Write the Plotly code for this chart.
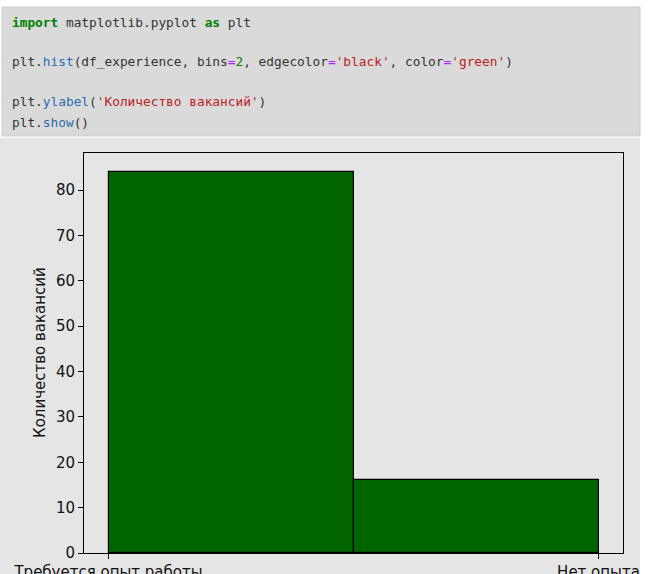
import plotly.graph_objects as go
import numpy as np

# ---- data ----
categories = ["Требуется опыт работы", "Нет опыта"]
counts = [84, 16]
y_ticks = [0, 10, 20, 30, 40, 50, 60, 70, 80]
y_label = "Количество вакансий"

# matplotlib-style categorical histogram: categories -> codes 0..n-1, bins=2
codes = np.arange(len(categories))
edges = np.linspace(codes.min(), codes.max(), len(counts) + 1)
centers = (edges[:-1] + edges[1:]) / 2
widths = np.diff(edges)

W, H = 656, 574
L, R, T, B = 84, 623, 153, 553

def px(x):
    return (x - L) / (R - L)

def py(y):
    return (B - y) / (B - T)

fig = go.Figure()
fig.add_trace(go.Bar(
    x=centers, y=counts, width=widths,
    marker=dict(color="#006400", line=dict(color="black", width=1.2)),
    hoverinfo="skip",
))

KW = "color:#008000;font-weight:bold"
OP = "color:#aa22ff"
NUM = "color:#008000"
STR = "color:#ba2121"
PROP = "color:#2a6cb0"
TXT = "#333333"

code_lines = [
    (22, f"<span style='{KW}'><b>import</b></span> matplotlib.pyplot <span style='{KW}'><b>as</b></span> plt"),
    (62, f"plt.<span style='{PROP}'>hist</span>(df_experience, bins<span style='{OP}'>=</span><span style='{NUM}'>2</span>, edgecolor<span style='{OP}'>=</span><span style='{STR}'>'black'</span>, color<span style='{OP}'>=</span><span style='{STR}'>'green'</span>)"),
    (101, f"plt.<span style='{PROP}'>ylabel</span>(<span style='{STR}'>'Количество вакансий'</span>)"),
    (122, f"plt.<span style='{PROP}'>show</span>()"),
]

shapes = [
    # code cell background
    dict(type="rect", xref="paper", yref="paper", x0=px(2), x1=px(640), y0=py(7), y1=py(136),
         fillcolor="#dadada", line=dict(color="#cdcdcd", width=1), layer="below"),
    # output area background
    dict(type="rect", xref="paper", yref="paper", x0=px(0), x1=px(640), y0=py(138), y1=py(580),
         fillcolor="#e5e5e5", line=dict(width=0), layer="below"),
]

annotations = []
for yy, txt in code_lines:
    annotations.append(dict(
        xref="paper", yref="paper", x=px(10), y=py(yy), xanchor="left", yanchor="middle",
        text=txt, showarrow=False, align="left",
        font=dict(family="DejaVu Sans Mono", size=12.8, color=TXT),
    ))

annotations.append(dict(
    xref="paper", yref="paper", x=px(40), y=py(353), xanchor="center", yanchor="middle",
    text=y_label, textangle=-90, showarrow=False,
    font=dict(family="DejaVu Sans", size=15, color="#111111"),
))

fig.update_layout(
    width=W, height=H,
    margin=dict(l=L, r=W - R, t=T, b=H - B, pad=0, autoexpand=False),
    paper_bgcolor="white",
    plot_bgcolor="#e5e5e5",
    showlegend=False,
    shapes=shapes,
    annotations=annotations,
    font=dict(family="DejaVu Sans", size=15, color="#111111"),
    bargap=0,
)
fig.update_xaxes(
    range=[edges[0] - 0.05 * (edges[-1] - edges[0]), edges[-1] + 0.05 * (edges[-1] - edges[0])],
    tickmode="array", tickvals=codes, ticktext=categories,
    ticks="outside", ticklen=5, tickcolor="black", tickwidth=1,
    showline=True, linecolor="black", linewidth=1, mirror=True,
    showgrid=False, zeroline=False, automargin=False,
    tickfont=dict(family="DejaVu Sans", size=15, color="#111111"),
)
fig.update_yaxes(
    range=[0, 88.2],
    tickmode="array", tickvals=y_ticks,
    ticks="outside", ticklen=5, tickcolor="black", tickwidth=1,
    showline=True, linecolor="black", linewidth=1, mirror=True,
    showgrid=False, zeroline=False, automargin=False,
    tickfont=dict(family="DejaVu Sans", size=15, color="#111111"),
)

fig.write_html("out.html")
